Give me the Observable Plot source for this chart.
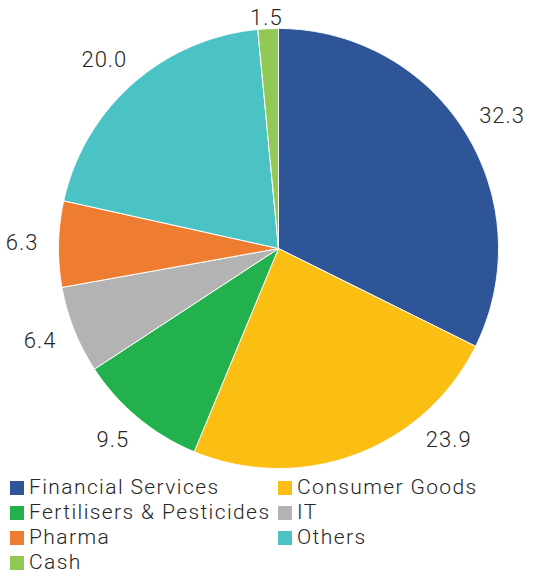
<!DOCTYPE html>
<html><head><meta charset="utf-8">
<script src="https://cdn.jsdelivr.net/npm/d3@7"></script>
<script src="https://cdn.jsdelivr.net/npm/@observablehq/plot@0.6"></script>
<style>
body{margin:0;background:#fff;font-family:Roboto,"Noto Sans",sans-serif;}
#legend{display:grid;grid-template-columns:268px 262px;margin-left:10px;margin-top:3px;font-weight:300;font-size:21px;letter-spacing:1.4px;color:#262626;}
#legend div{height:25px;line-height:25px;display:flex;align-items:center;white-space:nowrap;}
#legend span.sw{display:inline-block;width:14px;height:14px;margin-right:5px;}
</style></head>
<body>
<div id="chart"></div>
<div id="legend"></div>
<script>
const sectors = ["Financial Services","Consumer Goods","Fertilisers & Pesticides","IT","Pharma","Others","Cash"];
const weights = [32.3, 23.9, 9.5, 6.4, 6.3, 20.0, 1.5];
const labels = ["32.3","23.9","9.5","6.4","6.3","20.0","1.5"];
const colors = ["#2D5597","#FBBF14","#22B14C","#B3B3B3","#EE7D31","#4BC3C4","#92C954"];

const W = 540, H = 472, R = 220;
const pie = d3.pie().sort(null).value(d => d)(weights);

// slice polygons in unit-circle data space
const pts = [];
pie.forEach((p, i) => {
  const name = sectors[i];
  pts.push({name, x: 0, y: 0});
  const n = Math.max(2, Math.ceil((p.endAngle - p.startAngle) / 0.005));
  for (let k = 0; k <= n; k++) {
    const a = p.startAngle + (p.endAngle - p.startAngle) * k / n;
    pts.push({name, x: Math.sin(a), y: Math.cos(a)});
  }
  pts.push({name, x: 0, y: 0});
});

// label placement: outside end, slide along circle to stay inside bounds
const fs = 22, maxDown = 192 / R, maxUp = 231 / R;
const labelPts = pie.map((p, i) => {
  const tw = labels[i].length * fs * 0.6 - (labels[i].includes(".") ? fs * 0.3 : 0);
  const place = a => {
    const re = (R + 20) / R;
    return {
      x: re * Math.sin(a) + Math.sin(a) * (tw / 2) / R,
      y: re * Math.cos(a) + Math.cos(a) * (fs * 0.5) / R
    };
  };
  let a = (p.startAngle + p.endAngle) / 2;
  let pos = place(a);
  let guard = 0;
  while (-pos.y > maxDown && guard++ < 400) {
    a += (Math.sin(a) > 0 ? -1 : 1) * 0.005;
    pos = place(a);
  }
  return {label: labels[i], x: pos.x, y: Math.min(pos.y, maxUp)};
});

const chart = Plot.plot({
  width: W, height: H,
  marginTop: 28, marginBottom: H - 468, marginLeft: 58, marginRight: W - 498,
  x: {domain: [-1, 1], axis: null},
  y: {domain: [-1, 1], axis: null},
  color: {domain: sectors, range: colors},
  style: {fontFamily: "Roboto, sans-serif", overflow: "visible"},
  marks: [
    Plot.line(pts, {x: "x", y: "y", z: "name", fill: "name", stroke: "white", strokeWidth: 1, curve: "linear"}),
    Plot.text(labelPts, {x: "x", y: "y", text: "label", fontSize: fs, fontWeight: 300, fill: "#262626", textAnchor: "middle", lineAnchor: "middle", style: "letter-spacing:1px"})
  ]
});
chart.querySelectorAll("text").forEach(t => t.style.letterSpacing = "1px");
document.getElementById("chart").appendChild(chart);

const lg = document.getElementById("legend");
sectors.forEach((s, i) => {
  const d = document.createElement("div");
  d.innerHTML = `<span class="sw" style="background:${colors[i]}"></span>${s}`;
  lg.appendChild(d);
});
</script>
</body></html>
